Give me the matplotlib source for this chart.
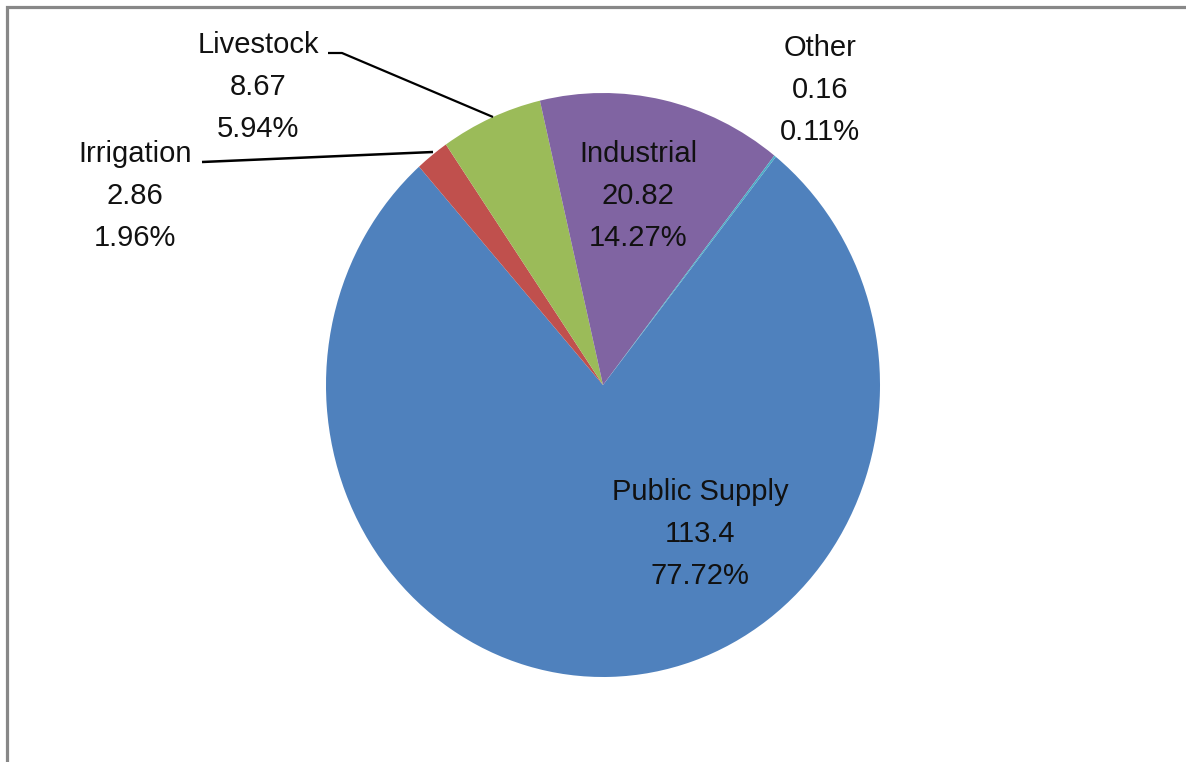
import matplotlib
matplotlib.use("Agg")
import matplotlib.pyplot as plt

# water use categories, in chart order (clockwise)
categories = ["Public Supply", "Irrigation", "Livestock", "Industrial", "Other"]
values = [113.4, 2.86, 8.67, 20.82, 0.16]
colors = ["#4F81BD", "#C0504D", "#9BBB59", "#8064A2", "#4BACC6"]

total = sum(values)
pcts = [v / total * 100 for v in values]

W, H = 1186, 762
fig = plt.figure(figsize=(W / 100, H / 100), dpi=100)
fig.patch.set_facecolor("white")

# pie is slightly taller than wide in the original, so use an auto-aspect axes
left, right, top, bottom = 326, 880, 93, 677
axp = fig.add_axes([left / W, (H - bottom) / H, (right - left) / W, (bottom - top) / H])
axp.pie(values, colors=colors, startangle=51.4, counterclock=False,
        radius=1, wedgeprops=dict(linewidth=0))
axp.set_aspect("auto")
axp.set_xlim(-1, 1)
axp.set_ylim(-1, 1)
axp.axis("off")

# overlay in pixel coordinates for labels, leader lines and frame
ax = fig.add_axes([0, 0, 1, 1])
ax.set_xlim(0, W)
ax.set_ylim(H, 0)
ax.axis("off")
ax.patch.set_alpha(0)

label_pos = {
    "Public Supply": (700, 534),
    "Irrigation": (135, 196),
    "Livestock": (258, 87),
    "Industrial": (638, 196),
    "Other": (820, 90),
}

font = dict(family=["Liberation Sans", "DejaVu Sans"], fontsize=21)
for cat, v, p in zip(categories, values, pcts):
    x, y = label_pos[cat]
    ax.text(x, y, f"{cat}\n{v:g}\n{p:.2f}%", ha="center", va="center",
            linespacing=1.62, color="#111111", **font)

# leader lines
ax.plot([328, 342, 493], [53, 53, 117], color="black", lw=1.6, solid_capstyle="butt")
ax.plot([202, 433], [162, 152], color="black", lw=1.8, solid_capstyle="butt")

# chart frame (left and top edges visible)
ax.plot([6.5, 6.5, W], [H, 6.5, 6.5], color="#888888", lw=2.3, solid_joinstyle="miter")

fig.savefig("out.png", dpi=100, facecolor="white")
